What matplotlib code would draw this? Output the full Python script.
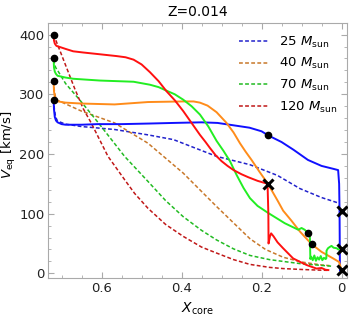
import numpy as np
import matplotlib
matplotlib.use("Agg")
import matplotlib.pyplot as plt
from matplotlib.ticker import MultipleLocator

plt.rcParams['mathtext.fontset'] = 'dejavusans'
plt.rcParams['font.family'] = ['DejaVu Sans']

# ---- data ----
masses = ["25", "40", "70", "120"]

# solid tracks
x25 = [0.72, 0.719, 0.717, 0.714, 0.71, 0.70, 0.69, 0.65, 0.61, 0.55, 0.48, 0.42, 0.35,
       0.31, 0.29, 0.26, 0.23, 0.20, 0.183, 0.15, 0.12, 0.084, 0.05, 0.02, 0.0085, 0.006,
       0.005, 0.004]
y25 = [291, 275, 262, 256, 253, 250, 249, 249, 250, 250, 251, 252, 253,
       252, 250, 247, 244, 238, 231, 220, 207, 190, 180, 175, 173, 150,
       105, 5]

x40 = [0.72, 0.719, 0.717, 0.714, 0.709, 0.69, 0.651, 0.5675, 0.484, 0.396, 0.37, 0.354,
       0.335, 0.3125, 0.2875, 0.27, 0.254, 0.24, 0.225, 0.205, 0.184, 0.16, 0.146, 0.125,
       0.104, 0.075, 0.05, 0.021, 0.006, 0.0]
y40 = [322, 305, 296, 291, 288, 286, 284.5, 283, 287, 288, 288, 286,
       281, 270, 252, 236, 218, 204, 190, 170, 150, 122, 105, 88,
       70, 49, 36, 25, 19, 5]

x70 = [0.72, 0.719, 0.717, 0.714, 0.71, 0.69, 0.671, 0.604, 0.52, 0.479, 0.4575, 0.4375,
       0.417, 0.396, 0.375, 0.354, 0.333, 0.3125, 0.295, 0.279, 0.2625, 0.245, 0.229, 0.21,
       0.183, 0.142, 0.108, 0.1, 0.092, 0.083, 0.079,
       0.078, 0.076, 0.072, 0.068, 0.064, 0.06, 0.056, 0.052, 0.048, 0.044, 0.04, 0.038,
       0.0375, 0.034, 0.03, 0.025, 0.02, 0.012, 0.008, 0.0]
y70 = [360, 345, 338, 334, 331, 328, 326, 323, 321, 316, 312, 306,
       300, 291, 280, 266, 246, 222, 205, 188, 165, 143, 126, 113,
       101, 84, 73, 76, 73, 67, 60,
       24, 28, 22, 30, 21, 27, 23, 29, 22, 26, 24, 25,
       38, 42, 44, 46, 43, 42, 40, 40]

x120 = [0.72, 0.719, 0.717, 0.714, 0.7125, 0.69, 0.671, 0.646, 0.604, 0.5625, 0.54, 0.52,
        0.5, 0.479, 0.4575, 0.4375, 0.417, 0.396, 0.375, 0.354, 0.34, 0.329, 0.315, 0.30,
        0.285, 0.27, 0.25, 0.233, 0.21, 0.185, 0.183, 0.1825,
        0.179, 0.176, 0.17, 0.16, 0.146, 0.121, 0.1, 0.0875, 0.0625, 0.05, 0.04, 0.033]
y120 = [400, 390, 385, 382, 381, 376, 372, 370, 367, 364, 362, 358,
        350, 337, 322, 305, 290, 272, 252, 232, 220, 210, 198, 188,
        180, 173, 166, 161, 155, 150, 100, 50,
        62, 67, 62, 52, 42, 25, 18, 14, 8, 9, 6, 5.5]

# dashed tracks
xd25 = [0.72, 0.718, 0.715, 0.71, 0.69, 0.651, 0.5675, 0.484, 0.42, 0.3125, 0.229, 0.16,
        0.104, 0.05, 0.0085]
yd25 = [291, 275, 262, 255, 250, 246, 241, 232, 224, 196, 182, 164, 142, 127, 118]

xd40 = [0.72, 0.718, 0.715, 0.71, 0.651, 0.5675, 0.484, 0.396, 0.3125, 0.229, 0.19,
        0.146, 0.1, 0.05, 0.03]
yd40 = [322, 305, 295, 290, 272, 252, 218, 168, 112, 58, 40, 27, 19, 14, 13]

xd70 = [0.72, 0.715, 0.71, 0.69, 0.654, 0.609, 0.5425, 0.484, 0.44, 0.396, 0.35, 0.3125,
        0.27, 0.229, 0.18, 0.146, 0.1, 0.0625, 0.025]
yd70 = [358, 345, 340, 318, 290, 253, 196, 154, 122, 95, 72, 56, 41, 30, 23, 20, 16, 14, 12]

xd120 = [0.72, 0.7, 0.6675, 0.646, 0.626, 0.584, 0.5425, 0.5175, 0.484, 0.44, 0.396, 0.35,
         0.3125, 0.27, 0.229, 0.18, 0.146, 0.1, 0.06, 0.033]
yd120 = [400, 366, 310, 276, 252, 196, 157, 134, 109, 82, 62, 44, 34, 23, 15, 10, 8, 6.5, 5.5, 5]

# markers
dot_x = [0.72, 0.72, 0.72, 0.72, 0.183, 0.083, 0.075]
dot_y = [400, 360, 322, 291, 231, 67, 49]
cross_x = [0.185, 0.0, 0.0, 0.0]
cross_y = [150, 105, 40, 5]

solid_cols = ["#1010ff", "#ff8c1a", "#22ee22", "#ff1010"]
dash_cols = ["#2222cc", "#c8782a", "#22bb22", "#c01818"]

fig = plt.figure(figsize=(3.49, 3.19), dpi=100)
ax = fig.add_axes([0.1375, 0.130, 0.856, 0.799])

for xs, ys, c, m in zip([xd25, xd40, xd70, xd120], [yd25, yd40, yd70, yd120], dash_cols, masses):
    ax.plot(xs, ys, ls=(0, (2.5, 1.5)), lw=1.1, color=c, label=m + r" $M_{\rm sun}$")

for xs, ys, c in zip([x25, x40, x70, x120], [y25, y40, y70, y120], solid_cols):
    ax.plot(xs, ys, lw=1.4, color=c)

ax.plot(dot_x, dot_y, 'o', color='k', ms=4.5, zorder=5)
ax.plot(cross_x, cross_y, 'x', color='k', ms=7, mew=2.2, zorder=5)

ax.set_xlim(0.734, -0.013)
ax.set_ylim(-7, 420)
ax.set_xticks([0.6, 0.4, 0.2, 0.0])
ax.set_xticklabels(["0.6", "0.4", "0.2", "0"])
ax.set_yticks([0, 100, 200, 300, 400])
ax.xaxis.set_minor_locator(MultipleLocator(0.05))
ax.yaxis.set_minor_locator(MultipleLocator(20))
ax.tick_params(which='both', direction='in', top=True, right=True, color='#aaaaaa',
               labelsize=9.5, labelcolor='#222222')
ax.tick_params(which='major', length=4)
ax.tick_params(which='minor', length=2)
ax.tick_params(axis='y', pad=2.5)
for s in ax.spines.values():
    s.set_color('#aaaaaa')

ax.set_xlabel(r"$X_{\rm core}$", fontsize=10)
ax.set_ylabel(r"$V_{\rm eq}$ [km/s]", fontsize=9.5)
ax.yaxis.set_label_coords(-0.1, 0.52)
ax.set_title("Z=0.014", fontsize=10, pad=5)

ax.legend(loc='upper right', bbox_to_anchor=(1.01, 1.0), frameon=False, fontsize=9.5,
          handlelength=2.2, labelspacing=0.5, handletextpad=0.8)

fig.savefig("out.png", dpi=100)
